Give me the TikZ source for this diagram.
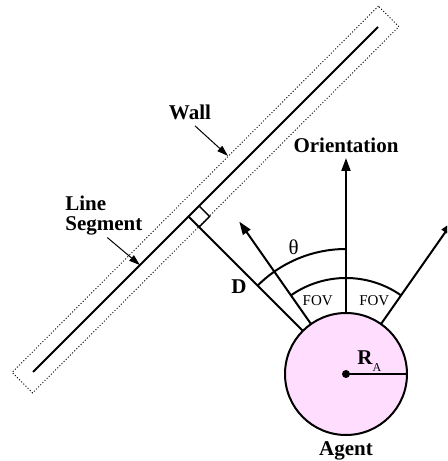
\documentclass[tikz,border=0pt]{standalone}
\usepackage{fontspec}
\setmainfont{Liberation Serif}
\usetikzlibrary{arrows.meta, positioning, calc}
\definecolor{agentpink}{RGB}{255,221,255}

\begin{document}
\begin{tikzpicture}[
    x=0.5pt, y=0.5pt,
    >={Triangle[length=6.5pt, width=4.5pt]},
    lbl/.style={font=\fontsize{10.5}{10}\selectfont\bfseries, inner sep=0pt},
    small/.style={font=\fontsize{7.5}{8}\selectfont, inner sep=0pt},
    heavy/.style={line width=1pt},
    ptr/.style={line width=0.5pt, -{Triangle[length=5.5pt, width=3.5pt]}},
    disk/.style={draw, circle, line width=1pt, fill=agentpink,
                 minimum size=61pt, inner sep=0pt, outer sep=0pt}
  ]
  \clip (0,0) rectangle (447,461);

  % wall with its line segment
  \coordinate (segA) at (33,89);
  \coordinate (segB) at (378,434);
  \node[draw, line width=0.5pt, dash pattern=on 0.5pt off 1pt, rotate=45,
        minimum width=259pt, minimum height=14.5pt, inner sep=0pt]
        (wall) at ($(segA)!0.5!(segB)$) {};
  \draw[heavy] (segA) -- (segB);

  % agent
  \node[disk] (agent) at (346,87) {};
  \fill (agent.center) circle[radius=2pt];
  \draw[heavy] (agent.center) -- (agent.0);

  % orientation and field of view
  \coordinate (otip) at (346,303);
  \coordinate (fovL) at ($(agent.center)+(125:186)$);
  \coordinate (fovR) at ($(agent.center)+(55:186)$);
  \draw[heavy, ->] (agent.90) -- (otip);
  \draw[heavy, ->] (agent.125) -- (fovL);
  \draw[heavy, ->] (agent.55) -- (fovR);

  % distance to the wall
  \coordinate (foot) at (188.5,244.5);
  \draw[heavy] (agent.135) -- (foot);
  \draw[line width=0.7pt] ($(foot)+(10.6,10.6)$) -- ++(10.6,-10.6) -- ++(-10.6,-10.6);

  % arcs
  \draw[heavy] ($(agent.center)+(90:125)$) arc[start angle=90, end angle=135, radius=125];
  \draw[heavy] ($(agent.center)+(55:96)$) arc[start angle=55, end angle=125, radius=96];

  % labels
  \node[lbl, above=2.5pt of otip] (orient) {Orientation};
  \node[font=\fontsize{10.5}{10}\selectfont, inner sep=0pt] (theta)
        at ($(agent.center)+(112.5:137)$) {θ};
  \node[small] (fovl) at ($(agent.center)+(111:79)$) {FOV};
  \node[small] (fovr) at ($(agent.center)+(69:79)$) {FOV};
  \node[lbl] (dist) at (239,174) {D};
  \node[lbl, anchor=base west] (rad) at (357,97)
        {R\raisebox{-3.5pt}{\fontsize{6}{6}\selectfont\mdseries A}};
  \node[lbl, below=3pt of agent] (agentlbl) {Agent};

  \node[lbl] (wlbl) at (190,349) {Wall};
  \coordinate (wtip) at ($(wall.north)!0.18!(wall.north east)$);
  \draw[ptr] ([shift={(2.5pt,-3pt)}]wlbl.south) -- (wtip);

  \node[lbl, align=left, anchor=north west] (seglbl) at (65,265) {Line\\Segment};
  \coordinate (stip) at ($(segA)!0.31!(segB)$);
  \draw[ptr] ([shift={(1.75pt,-0.8pt)}]seglbl.south) -- (stip);
\end{tikzpicture}
\end{document}
